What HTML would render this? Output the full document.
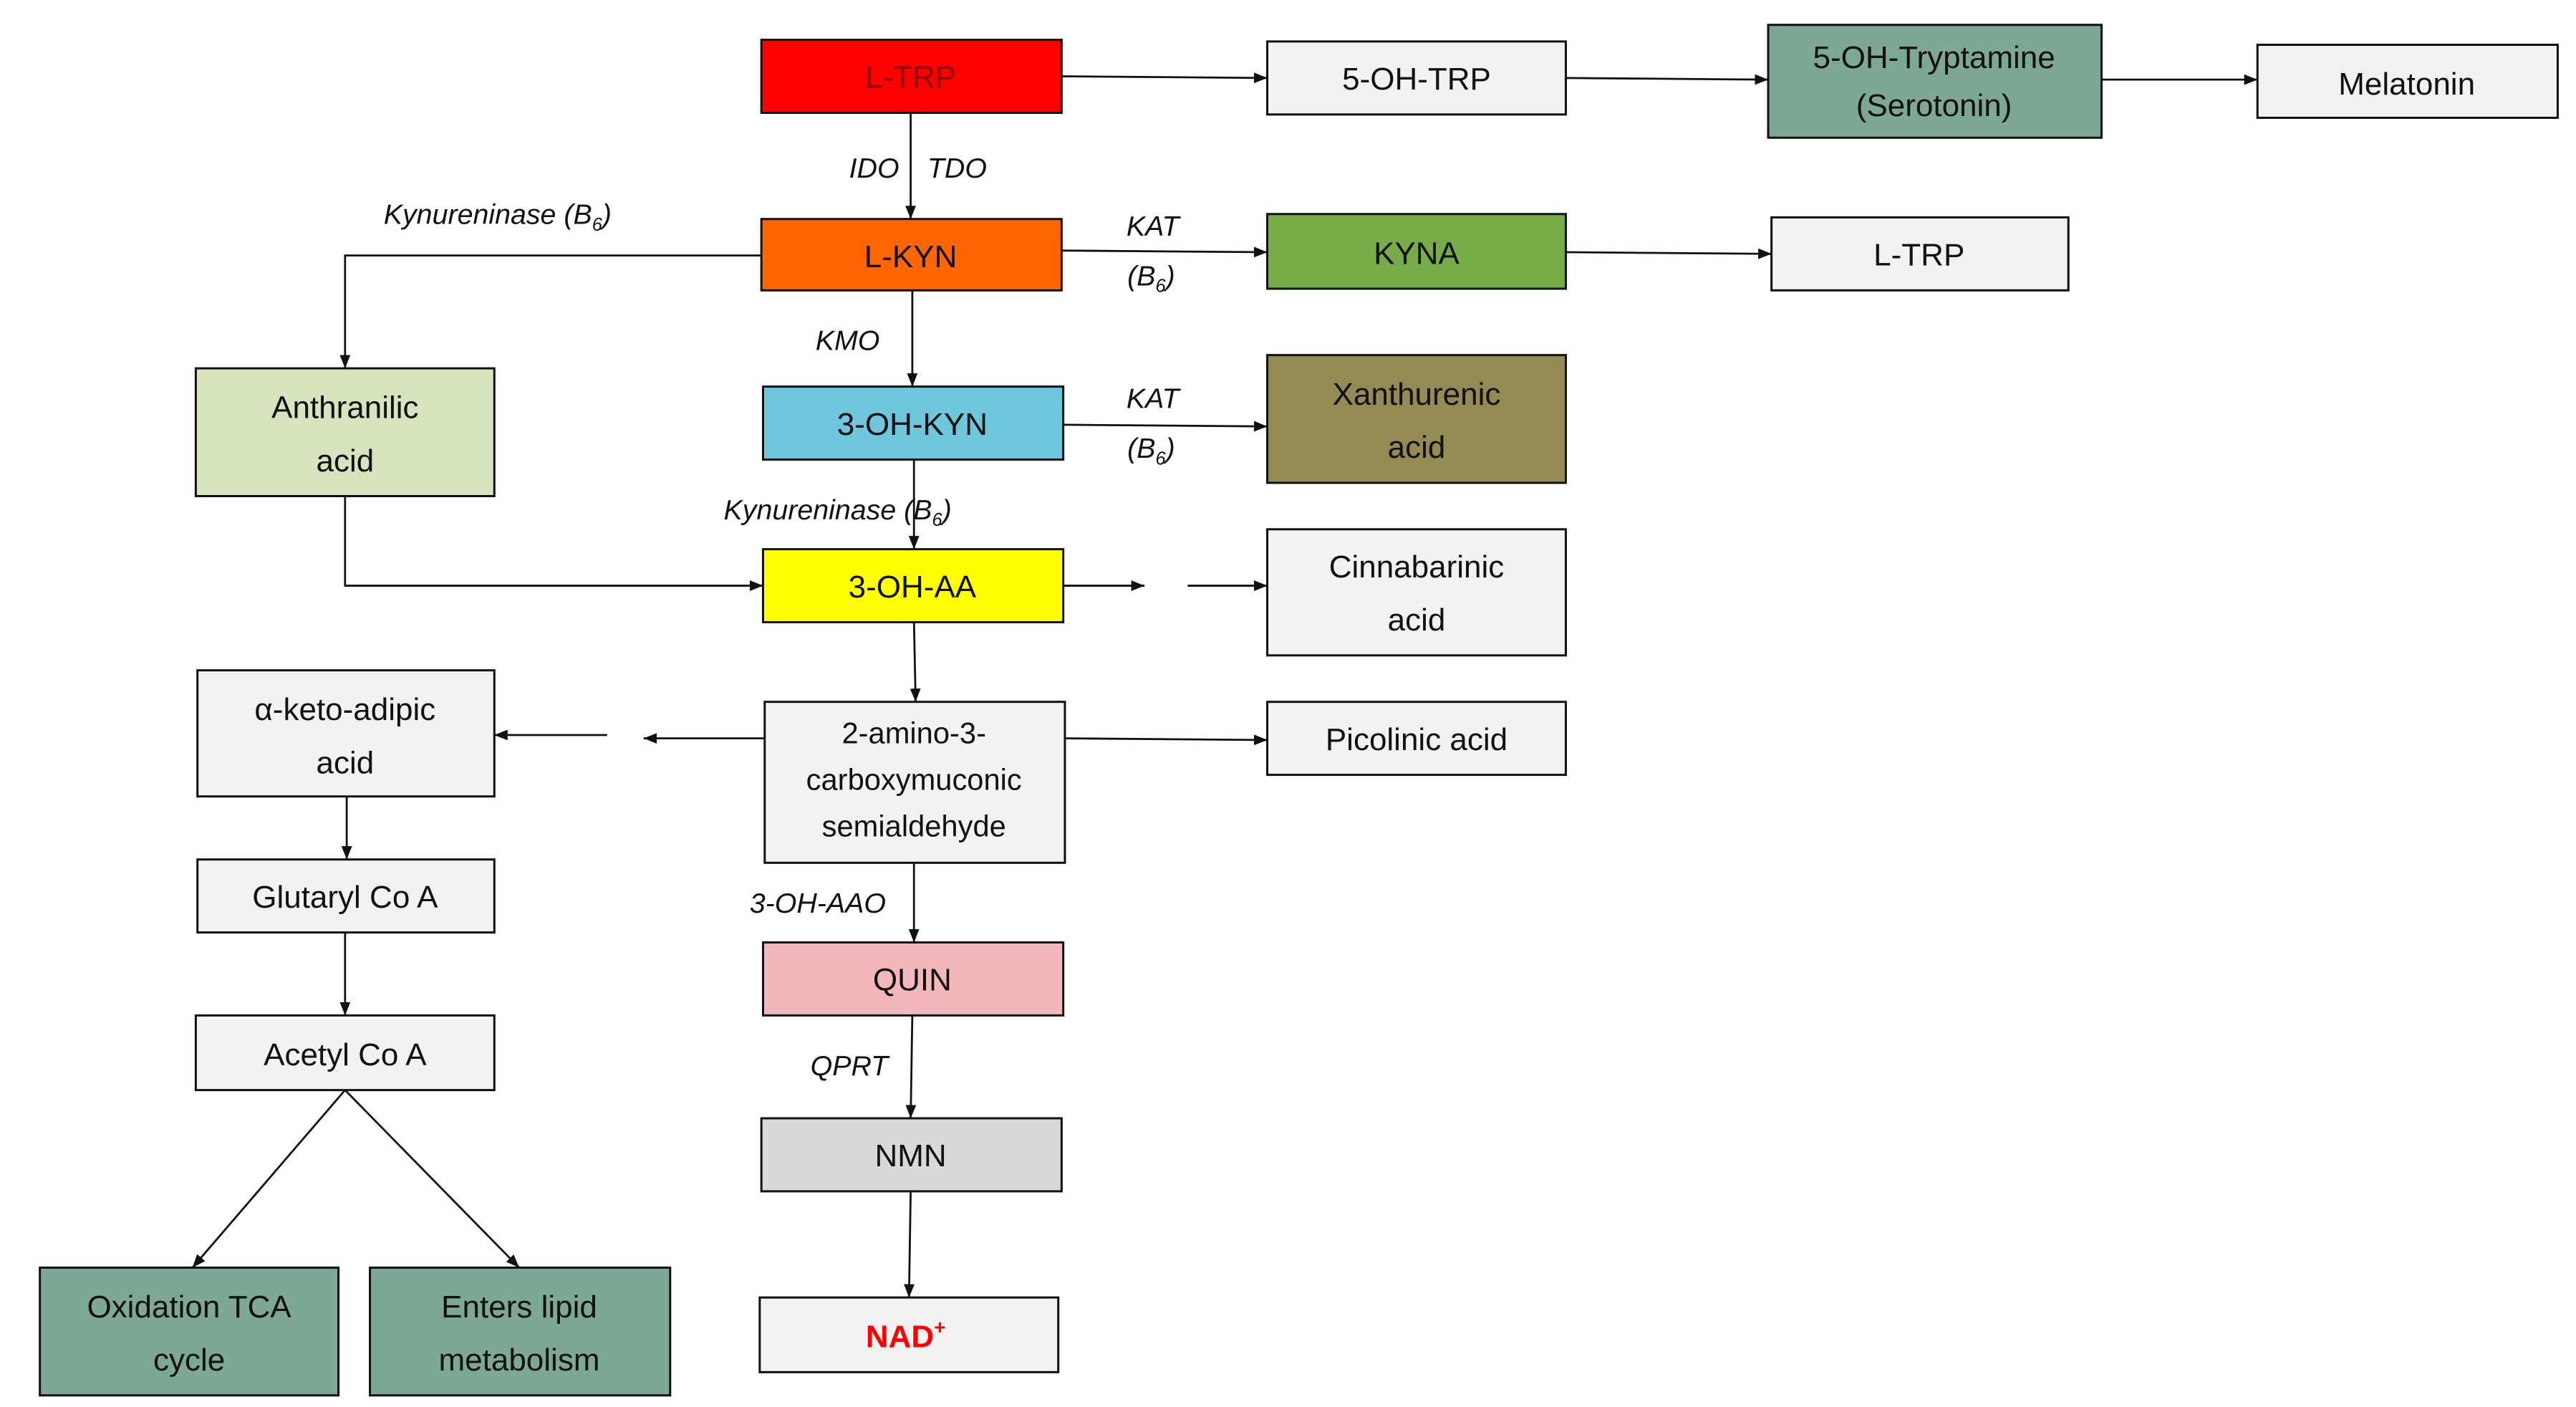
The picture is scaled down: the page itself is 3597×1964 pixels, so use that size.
<!DOCTYPE html>
<html><head><meta charset="utf-8"><style>
html,body{margin:0;padding:0;background:#fff;}
svg{display:block;}
text{font-family:"Liberation Sans",sans-serif;}
.b{stroke:#111;stroke-width:1.3;}
.t{font-size:19px;fill:#111;text-anchor:middle;}
.i{font-size:17px;font-style:italic;fill:#111;text-anchor:middle;}
.l{stroke:#111;stroke-width:1.2;fill:none;marker-end:url(#a);}
</style></head><body>
<svg width="3597" height="1964" viewBox="0 0 1553 848" xmlns="http://www.w3.org/2000/svg">
<defs>
<marker id="a" viewBox="0 0 10 10" refX="10" refY="5" markerWidth="8" markerHeight="8" markerUnits="userSpaceOnUse" orient="auto"><path d="M0,1 L10,5 L0,9 z" fill="#111"/></marker>
</defs>
<rect width="1553" height="848" fill="#fff"/>
<!-- boxes -->
<rect class="b" x="459" y="24" width="181" height="44" fill="#ff0000"/>
<text class="t" x="549" y="53" style="fill:#8a0000">L-TRP</text>
<rect class="b" x="764" y="25" width="180" height="44" fill="#f2f2f2"/>
<text class="t" x="854" y="54">5-OH-TRP</text>
<rect class="b" x="1066" y="15" width="201" height="68" fill="#7ea896"/>
<text class="t" x="1166" y="41">5-OH-Tryptamine</text>
<text class="t" x="1166" y="70">(Serotonin)</text>
<rect class="b" x="1361" y="27" width="181" height="44" fill="#f2f2f2"/>
<text class="t" x="1451" y="57">Melatonin</text>
<rect class="b" x="459" y="132" width="181" height="43" fill="#ff6600"/>
<text class="t" x="549" y="161">L-KYN</text>
<rect class="b" x="764" y="129" width="180" height="45" fill="#77ac48"/>
<text class="t" x="854" y="159">KYNA</text>
<rect class="b" x="1068" y="131" width="179" height="44" fill="#f2f2f2"/>
<text class="t" x="1157" y="160">L-TRP</text>
<rect class="b" x="118" y="222" width="180" height="77" fill="#d7e4bd"/>
<text class="t" x="208" y="252">Anthranilic</text>
<text class="t" x="208" y="284">acid</text>
<rect class="b" x="460" y="233" width="181" height="44" fill="#6ec6dc"/>
<text class="t" x="550" y="262">3-OH-KYN</text>
<rect class="b" x="764" y="214" width="180" height="77" fill="#948a54"/>
<text class="t" x="854" y="244">Xanthurenic</text>
<text class="t" x="854" y="276">acid</text>
<rect class="b" x="460" y="331" width="181" height="44" fill="#ffff00"/>
<text class="t" x="550" y="360">3-OH-AA</text>
<rect class="b" x="764" y="319" width="180" height="76" fill="#f2f2f2"/>
<text class="t" x="854" y="348">Cinnabarinic</text>
<text class="t" x="854" y="380">acid</text>
<rect class="b" x="119" y="404" width="179" height="76" fill="#f2f2f2"/>
<text class="t" x="208" y="434">α-keto-adipic</text>
<text class="t" x="208" y="466">acid</text>
<rect class="b" x="461" y="423" width="181" height="97" fill="#f2f2f2"/>
<text class="t" x="551" y="448" style="font-size:18px">2-amino-3-</text>
<text class="t" x="551" y="476" style="font-size:18px">carboxymuconic</text>
<text class="t" x="551" y="504" style="font-size:18px">semialdehyde</text>
<rect class="b" x="764" y="423" width="180" height="44" fill="#f2f2f2"/>
<text class="t" x="854" y="452">Picolinic acid</text>
<rect class="b" x="119" y="518" width="179" height="44" fill="#f2f2f2"/>
<text class="t" x="208" y="547">Glutaryl Co A</text>
<rect class="b" x="460" y="568" width="181" height="44" fill="#f4b8bc"/>
<text class="t" x="550" y="597">QUIN</text>
<rect class="b" x="118" y="612" width="180" height="45" fill="#f2f2f2"/>
<text class="t" x="208" y="642">Acetyl Co A</text>
<rect class="b" x="459" y="674" width="181" height="44" fill="#d9d9d9"/>
<text class="t" x="549" y="703">NMN</text>
<rect class="b" x="24" y="764" width="180" height="77" fill="#7ea896"/>
<text class="t" x="114" y="794">Oxidation TCA</text>
<text class="t" x="114" y="826">cycle</text>
<rect class="b" x="223" y="764" width="181" height="77" fill="#7ea896"/>
<text class="t" x="313" y="794">Enters lipid</text>
<text class="t" x="313" y="826">metabolism</text>
<rect class="b" x="458" y="782" width="180" height="45" fill="#f2f2f2"/>
<text class="t" x="546" y="812" style="fill:#ff0000;font-weight:bold">NAD<tspan font-size="12" dy="-8">+</tspan></text>
<!-- connectors -->
<path class="l" d="M640,46 L764,47"/>
<path class="l" d="M944,47 L1066,48"/>
<path class="l" d="M1267,48 L1361,48"/>
<path class="l" d="M549,68 L549,132"/>
<path class="l" d="M640,151 L764,152"/>
<path class="l" d="M944,152 L1068,153"/>
<path class="l" d="M459,154 L208,154 L208,222"/>
<path class="l" d="M550,175 L550,233"/>
<path class="l" d="M641,256 L764,257"/>
<path class="l" d="M551,277 L551,331"/>
<path class="l" d="M208,299 L208,353 L460,353"/>
<path class="l" d="M641,353 L690,353"/>
<path class="l" d="M716,353 L764,353"/>
<path class="l" d="M551,375 L552,423"/>
<path class="l" d="M461,445 L388,445"/>
<path class="l" d="M366,443 L298,443"/>
<path class="l" d="M642,445 L764,446"/>
<path class="l" d="M551,520 L551,568"/>
<path class="l" d="M209,480 L209,518"/>
<path class="l" d="M208,562 L208,612"/>
<path class="l" d="M208,657 L116,764"/>
<path class="l" d="M208,657 L313,764"/>
<path class="l" d="M550,612 L549,674"/>
<path class="l" d="M549,718 L548,782"/>
<!-- labels -->
<text class="i" x="527" y="107">IDO</text>
<text class="i" x="577" y="107">TDO</text>
<text class="i" x="300" y="135">Kynureninase (B<tspan font-size="11" dy="4">6</tspan><tspan dy="-4">)</tspan></text>
<text class="i" x="695" y="142">KAT</text>
<text class="i" x="694" y="172">(B<tspan font-size="11" dy="4">6</tspan><tspan dy="-4">)</tspan></text>
<text class="i" x="511" y="211">KMO</text>
<text class="i" x="695" y="246">KAT</text>
<text class="i" x="694" y="276">(B<tspan font-size="11" dy="4">6</tspan><tspan dy="-4">)</tspan></text>
<text class="i" x="505" y="313">Kynureninase  (B<tspan font-size="11" dy="4">6</tspan><tspan dy="-4">)</tspan></text>
<text class="i" x="493" y="550">3-OH-AAO</text>
<text class="i" x="512" y="648">QPRT</text>
</svg>
</body></html>
